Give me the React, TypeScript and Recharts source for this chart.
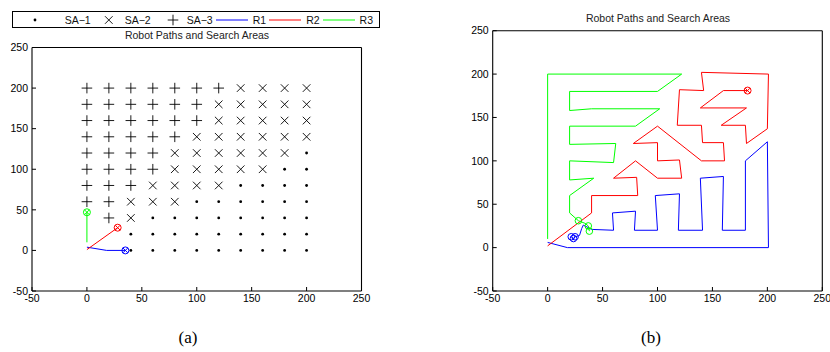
import React from 'react'
import { ScatterChart, Scatter, XAxis, YAxis } from 'recharts'

type Pt = { x: number; y: number }

const axisTicks = [-50, 0, 50, 100, 150, 200, 250]

// search areas, read row by row (y value, then the x values in that row)
const sa1Rows: [number, number[]][] = [
  [120, [200]],
  [100, [180, 200]],
  [80, [140, 160, 180, 200]],
  [60, [100, 120, 140, 160, 180, 200]],
  [40, [60, 80, 100, 120, 140, 160, 180, 200]],
  [20, [40, 60, 80, 100, 120, 140, 160, 180, 200]],
  [0, [40, 60, 80, 100, 120, 140, 160, 180, 200]],
]
const sa2Rows: [number, number[]][] = [
  [200, [140, 160, 180, 200]],
  [180, [120, 140, 160, 180, 200]],
  [160, [120, 140, 160, 180, 200]],
  [140, [100, 120, 140, 160, 180, 200]],
  [120, [80, 100, 120, 140, 160, 180]],
  [100, [80, 100, 120, 140, 160]],
  [80, [60, 80, 100, 120]],
  [60, [40, 60, 80]],
  [40, [40]],
]
const sa3Rows: [number, number[]][] = [
  [200, [0, 20, 40, 60, 80, 100, 120]],
  [180, [0, 20, 40, 60, 80, 100]],
  [160, [0, 20, 40, 60, 80, 100]],
  [140, [0, 20, 40, 60, 80]],
  [120, [0, 20, 40, 60]],
  [100, [0, 20, 40, 60]],
  [80, [0, 20, 40]],
  [60, [0, 20]],
  [40, [20]],
]

// robot paths, plot (a)
const r1PathA: [number, number][] = [[0, 4], [18, 0], [35, 0]]
const r2PathA: [number, number][] = [[0, 1], [28, 28]]
const r3PathA: [number, number][] = [[0, 10], [0, 47]]
const endsA = { r1: [[35, 0]], r2: [[28, 28]], r3: [[0, 47]] }

// robot paths, plot (b)
const r1PathB: [number, number][] = [
  [0, 6], [18, 0], [201, 0], [200, 122], [180, 100], [180, 20], [159, 20], [160, 82], [139, 80],
  [141, 20], [119, 20], [120, 62], [98, 60], [100, 20], [79, 20], [80, 42], [59, 40], [60, 20],
  [40, 21], [32.5, 26], [31, 22], [29, 14], [25, 12.5], [23.5, 10.5], [21.5, 12.5],
]
const r2PathB: [number, number][] = [
  [0, 2], [40, 40], [40, 60], [82, 60], [81, 81], [60, 80], [80, 100], [100, 80], [122, 80],
  [120, 101], [100, 100], [100, 121], [78, 120], [100, 140], [140, 100], [161, 100], [160, 121],
  [141, 121], [140, 141], [118, 141], [120, 182], [142, 181], [140, 202], [201, 200], [200, 137],
  [181, 120], [180, 141], [158, 141], [181, 161], [139, 161], [160, 181], [182, 181],
]
const r3PathB: [number, number][] = [
  [0, 10], [0, 200], [122, 200], [100, 180], [20, 180], [20, 158], [40, 160], [102, 160],
  [80, 140], [20, 140], [20, 119], [62, 120], [60, 98], [20, 100], [20, 78], [42, 80], [20, 60],
  [20, 40], [28, 31], [34, 28], [37, 25], [38, 19],
]
const endsB = {
  r1: [[21.5, 12.5], [23.5, 10.5], [25, 12.5]],
  r2: [[182, 181]],
  r3: [[28, 31], [37, 25], [38, 19]],
}

const BLUE = '#0000ff'
const RED = '#ff0000'
const GREEN = '#00ff00'
const FONT = '"Liberation Sans", Arial, sans-serif'

const fromRows = (rows: [number, number[]][]): Pt[] =>
  rows.flatMap(([y, xs]) => xs.map((x) => ({ x, y })))
const toPts = (arr: number[][]): Pt[] => arr.map(([x, y]) => ({ x, y }))

const sa1 = fromRows(sa1Rows)
const sa2 = fromRows(sa2Rows)
const sa3 = fromRows(sa3Rows)

const noShape = () => <g />

function marker(kind: string, color: string) {
  return (p: any) => {
    const { cx, cy } = p
    if (cx == null || cy == null) return <g />
    if (kind === 'dot') return <circle cx={cx} cy={cy} r={1.4} fill={color} />
    if (kind === 'x')
      return (
        <path
          d={`M${cx - 3.8},${cy - 3.8}L${cx + 3.8},${cy + 3.8}M${cx - 3.8},${cy + 3.8}L${cx + 3.8},${cy - 3.8}`}
          stroke={color}
          strokeWidth={0.9}
        />
      )
    if (kind === 'plus')
      return (
        <path
          d={`M${cx - 5.3},${cy}L${cx + 5.3},${cy}M${cx},${cy - 5.3}L${cx},${cy + 5.3}`}
          stroke={color}
          strokeWidth={0.9}
        />
      )
    if (kind === 'circle')
      return <circle cx={cx} cy={cy} r={3.3} fill="none" stroke={color} strokeWidth={1} />
    // circled x
    return (
      <g stroke={color} strokeWidth={1} fill="none">
        <circle cx={cx} cy={cy} r={3.5} />
        <path d={`M${cx - 2.4},${cy - 2.4}L${cx + 2.4},${cy + 2.4}M${cx - 2.4},${cy + 2.4}L${cx + 2.4},${cy - 2.4}`} />
      </g>
    )
  }
}

const tickStyle = { fontSize: 10.5, fill: '#000', fontFamily: FONT }
const axLine = { stroke: '#000', strokeWidth: 1.1 }
const tkLine = { stroke: '#000', strokeWidth: 1 }

function Axes() {
  return [
    <XAxis
      key="xb"
      xAxisId="b"
      type="number"
      dataKey="x"
      domain={[-50, 250]}
      ticks={axisTicks}
      allowDataOverflow
      height={20}
      tickSize={-4}
      tickMargin={8}
      axisLine={axLine}
      tickLine={tkLine}
      tick={tickStyle}
      interval={0}
    />,
    <XAxis
      key="xt"
      xAxisId="t"
      orientation="top"
      type="number"
      dataKey="x"
      domain={[-50, 250]}
      ticks={axisTicks}
      allowDataOverflow
      height={1}
      tickSize={-4}
      tick={false}
      axisLine={axLine}
      tickLine={tkLine}
    />,
    <YAxis
      key="yl"
      yAxisId="l"
      type="number"
      dataKey="y"
      domain={[-50, 250]}
      ticks={axisTicks}
      allowDataOverflow
      width={32}
      tickSize={-4}
      tickMargin={8}
      axisLine={axLine}
      tickLine={tkLine}
      tick={tickStyle}
      interval={0}
    />,
    <YAxis
      key="yr"
      yAxisId="r"
      orientation="right"
      type="number"
      dataKey="y"
      domain={[-50, 250]}
      ticks={axisTicks}
      allowDataOverflow
      width={1}
      tickSize={-4}
      tick={false}
      axisLine={axLine}
      tickLine={tkLine}
    />,
  ]
}

function PathSeries({ data, color, name }: { data: Pt[]; color: string; name: string }) {
  return (
    <Scatter
      name={name}
      data={data}
      xAxisId="b"
      yAxisId="l"
      line={{ stroke: color, strokeWidth: 1 }}
      shape={noShape}
      isAnimationActive={false}
    />
  )
}

function LegendBox() {
  const item = (sym: React.ReactNode, label: string, w: number) => (
    <div style={{ display: 'flex', alignItems: 'center' }}>
      <svg width={w} height={12}>{sym}</svg>
      <span style={{ marginLeft: 4, marginRight: 2 }}>{label}</span>
    </div>
  )
  const line = (c: string) => <line x1={1} x2={33} y1={6} y2={6} stroke={c} strokeWidth={1} />
  return (
    <div
      style={{
        position: 'absolute',
        left: 12,
        top: 11,
        width: 368,
        height: 17,
        border: '1px solid #000',
        display: 'flex',
        alignItems: 'center',
        justifyContent: 'flex-end',
        paddingRight: 4,
        boxSizing: 'border-box',
        fontFamily: FONT,
        fontSize: 10.5,
        color: '#111',
        background: '#fff',
      }}
    >
      {item(<circle cx={12} cy={6} r={1.4} fill="#000" />, 'SA\u22121', 38)}
      {item(<path d="M12,2.2L19.6,9.8M12,9.8L19.6,2.2" stroke="#000" strokeWidth={0.9} />, 'SA\u22122', 28)}
      {item(<path d="M14.7,6L25.3,6M20,0.7L20,11.3" stroke="#000" strokeWidth={0.9} />, 'SA\u22123', 30)}
      {item(line(BLUE), 'R1', 34)}
      {item(line(RED), 'R2', 34)}
      {item(line(GREEN), 'R3', 34)}
    </div>
  )
}

function Title({ cx, cy }: { cx: number; cy: number }) {
  return (
    <div
      style={{
        position: 'absolute',
        left: cx - 100,
        top: cy - 7,
        width: 200,
        textAlign: 'center',
        fontFamily: FONT,
        fontSize: 10.5,
        color: '#222',
        lineHeight: '14px',
      }}
    >
      Robot Paths and Search Areas
    </div>
  )
}

function Caption({ cx, text }: { cx: number; text: string }) {
  return (
    <div
      style={{
        position: 'absolute',
        left: cx - 30,
        top: 327,
        width: 60,
        textAlign: 'center',
        fontFamily: '"Liberation Serif", "Times New Roman", serif',
        fontSize: 17,
        color: '#000',
        lineHeight: '22px',
      }}
    >
      {text}
    </div>
  )
}

export default function App() {
  return (
    <div style={{ position: 'absolute', left: 0, top: 0, width: 830, height: 352, background: '#fff', overflow: 'hidden' }}>
      <div style={{ position: 'absolute', left: 0, top: 0 }}>
        <ScatterChart width={415} height={330} margin={{ top: 46.5, right: 52.5, bottom: 19, left: 0 }}>
          {Axes()}
          <Scatter data={sa1} xAxisId="b" yAxisId="l" shape={marker('dot', '#000')} isAnimationActive={false} />
          <Scatter data={sa2} xAxisId="b" yAxisId="l" shape={marker('x', '#000')} isAnimationActive={false} />
          <Scatter data={sa3} xAxisId="b" yAxisId="l" shape={marker('plus', '#000')} isAnimationActive={false} />
          {PathSeries({ data: toPts(r1PathA), color: BLUE, name: 'R1' })}
          {PathSeries({ data: toPts(r2PathA), color: RED, name: 'R2' })}
          {PathSeries({ data: toPts(r3PathA), color: GREEN, name: 'R3' })}
          <Scatter data={toPts(endsA.r1)} xAxisId="b" yAxisId="l" shape={marker('otimes', BLUE)} isAnimationActive={false} />
          <Scatter data={toPts(endsA.r2)} xAxisId="b" yAxisId="l" shape={marker('otimes', RED)} isAnimationActive={false} />
          <Scatter data={toPts(endsA.r3)} xAxisId="b" yAxisId="l" shape={marker('otimes', GREEN)} isAnimationActive={false} />
        </ScatterChart>
      </div>
      <div style={{ position: 'absolute', left: 415, top: 0 }}>
        <ScatterChart width={415} height={330} margin={{ top: 29.7, right: 6.7, bottom: 19, left: 45.7 }}>
          {Axes()}
          {PathSeries({ data: toPts(r1PathB), color: BLUE, name: 'R1' })}
          {PathSeries({ data: toPts(r2PathB), color: RED, name: 'R2' })}
          {PathSeries({ data: toPts(r3PathB), color: GREEN, name: 'R3' })}
          <Scatter data={toPts(endsB.r1)} xAxisId="b" yAxisId="l" shape={marker('circle', BLUE)} isAnimationActive={false} />
          <Scatter data={toPts(endsB.r2)} xAxisId="b" yAxisId="l" shape={marker('otimes', RED)} isAnimationActive={false} />
          <Scatter data={toPts(endsB.r3)} xAxisId="b" yAxisId="l" shape={marker('circle', GREEN)} isAnimationActive={false} />
        </ScatterChart>
      </div>
      <LegendBox />
      <Title cx={197} cy={35} />
      <Title cx={658} cy={18} />
      <Caption cx={188} text="(a)" />
      <Caption cx={651} text="(b)" />
    </div>
  )
}
